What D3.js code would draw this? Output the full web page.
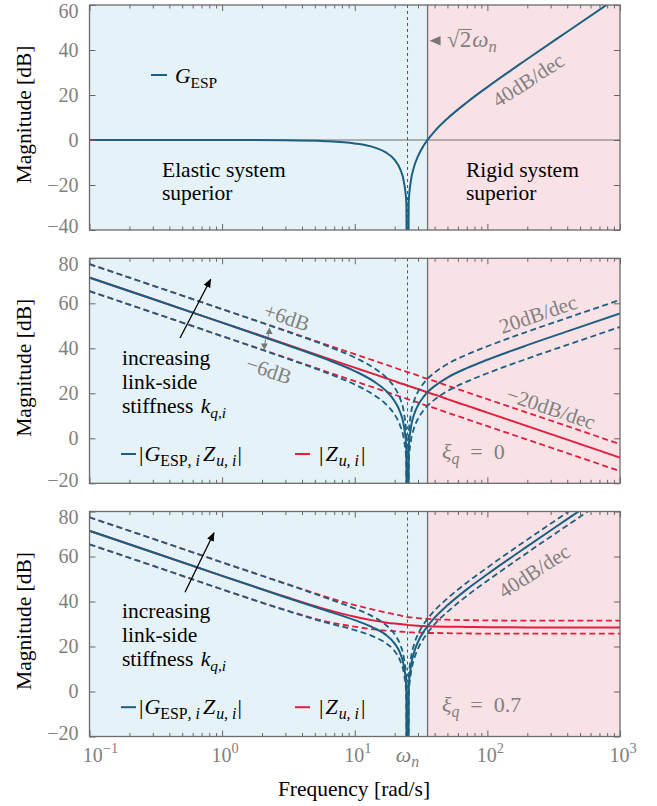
<!DOCTYPE html>
<html>
<head>
<meta charset="utf-8">
<script src="https://cdn.jsdelivr.net/npm/d3@7"></script>
</head>
<body style="margin:0">
<svg width="657" height="806"></svg>
<script>
const freq = [0.1, 0.3, 1, 3, 6, 10, 14, 17, 20, 22, 23.5, 24.5, 25, 25.5, 26.5, 28, 30, 33, 35.4, 40, 50, 70, 100, 200, 400, 1000];

const omegaN = 25;
const omegaSwitch = 35.4;   // sqrt(2) * omegaN

// top panel: G_ESP [dB]
const gEsp = [0, 0, 0, -0.13, -0.52, -1.51, -3.27, -5.39, -8.87, -12.93, -18.68, -28.05, -200, -27.87, -18.16, -11.89, -7.13, -2.59, 0.04, 3.86, 9.54, 16.70, 23.52, 35.99, 48.13, 64.08];

// middle panel, xi_q = 0
const zu0   = [71.4, 61.9, 51.4, 41.9, 35.8, 31.4, 28.5, 26.8, 25.4, 24.5, 24.0, 23.6, 23.4, 23.3, 22.9, 22.5, 21.9, 21.0, 20.4, 19.4, 17.4, 14.5, 11.4, 5.4, -0.6, -8.6];
const zu0Hi = [77.4, 67.9, 57.4, 47.9, 41.8, 37.4, 34.5, 32.8, 31.4, 30.5, 30.0, 29.6, 29.4, 29.3, 28.9, 28.5, 27.9, 27.0, 26.4, 25.4, 23.4, 20.5, 17.4, 11.4, 5.4, -2.6];
const zu0Lo = [65.4, 55.9, 45.4, 35.9, 29.8, 25.4, 22.5, 20.8, 19.4, 18.5, 18.0, 17.6, 17.4, 17.3, 16.9, 16.5, 15.9, 15.0, 14.4, 13.4, 11.4, 8.5, 5.4, -0.6, -6.6, -14.6];
const gz0   = [71.4, 61.9, 51.4, 41.7, 35.3, 29.9, 25.2, 21.4, 16.5, 11.6, 5.3, -4.4, -200, -4.6, 4.8, 10.6, 14.7, 18.4, 20.5, 23.2, 27.0, 31.2, 34.9, 41.4, 47.5, 55.5];
const gz0Hi = [77.4, 67.9, 57.4, 47.7, 41.3, 35.9, 31.2, 27.4, 22.5, 17.6, 11.3, 1.6, -200, 1.4, 10.8, 16.6, 20.7, 24.4, 26.5, 29.2, 33.0, 37.2, 40.9, 47.4, 53.5, 61.5];
const gz0Lo = [65.4, 55.9, 45.4, 35.7, 29.3, 23.9, 19.2, 15.4, 10.5, 5.6, -0.7, -10.4, -200, -10.6, -1.2, 4.6, 8.7, 12.4, 14.5, 17.2, 21.0, 25.2, 28.9, 35.4, 41.5, 49.5];

// bottom panel, xi_q = 0.7
const zu7   = [71.4, 61.9, 51.4, 42.1, 36.6, 33.2, 31.5, 30.7, 30.2, 30.0, 29.8, 29.7, 29.6, 29.5, 29.4, 29.3, 29.2, 29.1, 29.0, 28.9, 28.8, 28.7, 28.6, 28.5, 28.5, 28.5];
const zu7Hi = [77.4, 67.9, 57.4, 48.0, 42.2, 38.4, 36.3, 35.2, 34.3, 33.8, 33.4, 33.2, 33.1, 33.0, 32.9, 32.8, 32.6, 32.4, 32.3, 32.1, 31.9, 31.7, 31.6, 31.5, 31.5, 31.5];
const zu7Lo = [65.4, 55.9, 45.4, 36.2, 31.2, 28.8, 27.6, 27.1, 26.8, 26.6, 26.5, 26.4, 26.4, 26.3, 26.3, 26.2, 26.2, 26.1, 26.0, 26.0, 25.9, 25.8, 25.7, 25.7, 25.7, 25.7];
const gz7   = [71.4, 61.9, 51.4, 41.9, 36.1, 31.7, 28.2, 25.4, 21.3, 17.0, 11.1, 1.7, -200, 1.6, 11.2, 17.4, 22.1, 26.5, 29.0, 32.8, 38.3, 45.4, 52.1, 64.5, 76.6, 92.6];
const gz7Hi = [77.4, 67.9, 57.4, 47.9, 41.7, 36.9, 33.0, 29.8, 25.4, 20.9, 14.7, 5.2, -200, 5.1, 14.7, 20.9, 25.5, 29.8, 32.3, 36.0, 41.4, 48.4, 55.1, 67.5, 79.6, 95.6];
const gz7Lo = [65.4, 55.9, 45.4, 36.1, 30.7, 27.3, 24.3, 21.7, 17.9, 13.7, 7.8, -1.6, -200, -1.6, 8.1, 14.3, 19.1, 23.5, 26.0, 29.9, 35.4, 42.5, 49.2, 61.7, 73.8, 89.8];

const xTicks = [0.1, 1, 10, 100, 1000];
const xTickExp = ['\u22121', '0', '1', '2', '3'];
const yTicksTop = [-40, -20, 0, 20, 40, 60];
const yTicksLow = [-20, 0, 20, 40, 60, 80];

const BLUE = '#1d5f80';
const RED = '#e31e3c';
const GRAY = '#808080';
const DASH = '6,3.5';
const FONT = '"Liberation Serif", "Times New Roman", serif';

const svg = d3.select('svg').style('font-family', FONT);
const left = 89.5, right = 620, panelH = 225;

const x = d3.scaleLog().domain([0.1, 1000]).range([left, right]);
const xMinor = d3.range(-1, 3).flatMap(e => d3.range(2, 10).map(m => m * Math.pow(10, e)));

const panels = [
  { top: 5, domain: [-40, 60], ticks: yTicksTop, zeroLine: true,
    curves: [{ v: gEsp, c: BLUE }] },
  { top: 258.3, domain: [-20, 80], ticks: yTicksLow,
    curves: [{ v: zu0Lo, c: RED, d: true }, { v: zu0Hi, c: RED, d: true }, { v: zu0, c: RED },
             { v: gz0Lo, c: BLUE, d: true }, { v: gz0Hi, c: BLUE, d: true }, { v: gz0, c: BLUE }] },
  { top: 511.5, domain: [-20, 80], ticks: yTicksLow,
    curves: [{ v: zu7Lo, c: RED, d: true }, { v: zu7Hi, c: RED, d: true }, { v: zu7, c: RED },
             { v: gz7Lo, c: BLUE, d: true }, { v: gz7Hi, c: BLUE, d: true }, { v: gz7, c: BLUE }] }
];

svg.append('defs').append('marker')
  .attr('id', 'head')
  .attr('viewBox', '0 0 10 10').attr('refX', 9).attr('refY', 5)
  .attr('markerWidth', 9).attr('markerHeight', 9).attr('markerUnits', 'userSpaceOnUse')
  .attr('orient', 'auto')
  .append('path').attr('d', 'M0,1 L10,5 L0,9 Z').attr('fill', '#000');

function plain(px, py, str, size = 21.5) {
  return svg.append('text').attr('x', px).attr('y', py)
    .attr('font-size', size).style('font-family', FONT).text(str);
}

// text with italic / sub / superscript pieces
function mathText(sel, px, py, parts, size = 21.5, anchor = 'start') {
  const t = sel.append('text').attr('x', px).attr('y', py)
    .attr('font-size', size).attr('text-anchor', anchor).style('font-family', FONT);
  let shift = 0;
  parts.forEach(([s, style = '', dx = 0]) => {
    const sub = style.includes('sub'), sup = style.includes('sup');
    const target = sub ? 5 : sup ? -9 : 0;
    t.append('tspan')
      .attr('dy', target - shift)
      .attr('dx', dx || null)
      .attr('font-size', sub || sup ? size * 0.72 : size)
      .attr('font-style', style.startsWith('i') ? 'italic' : 'normal')
      .text(s);
    shift = target;
  });
  return t;
}

function drawPanel(p, i) {
  const y = d3.scaleLinear().domain(p.domain).range([p.top + panelH, p.top]);
  const g = svg.append('g');

  g.append('clipPath').attr('id', 'clip' + i)
    .append('rect').attr('x', left).attr('y', p.top).attr('width', right - left).attr('height', panelH);

  g.append('rect').attr('x', left).attr('y', p.top)
    .attr('width', x(omegaSwitch) - left).attr('height', panelH).attr('fill', '#e5f3f8');
  g.append('rect').attr('x', x(omegaSwitch)).attr('y', p.top)
    .attr('width', right - x(omegaSwitch)).attr('height', panelH).attr('fill', '#f9e2e6');

  if (p.zeroLine) {
    g.append('line').attr('x1', left).attr('x2', right).attr('y1', y(0)).attr('y2', y(0))
      .attr('stroke', '#6e6e6e').attr('stroke-width', 1.2);
  }
  g.append('line').attr('x1', x(omegaN)).attr('x2', x(omegaN)).attr('y1', p.top).attr('y2', p.top + panelH)
    .attr('stroke', '#555').attr('stroke-width', 1).attr('stroke-dasharray', '3,3');
  g.append('line').attr('x1', x(omegaSwitch)).attr('x2', x(omegaSwitch)).attr('y1', p.top).attr('y2', p.top + panelH)
    .attr('stroke', '#6e6e6e').attr('stroke-width', 1.3);

  const line = d3.line().x(d => x(d[0])).y(d => y(d[1])).curve(d3.curveMonotoneX);
  g.append('g').attr('clip-path', `url(#clip${i})`)
    .selectAll('path').data(p.curves).join('path')
      .attr('d', c => line(freq.map((f, k) => [f, c.v[k]])))
      .attr('fill', 'none')
      .attr('stroke', c => c.c)
      .attr('stroke-width', c => c.d ? 1.8 : 2)
      .attr('stroke-dasharray', c => c.d ? DASH : null);

  // inward ticks on all four sides
  const bottom = p.top + panelH;
  const addAxis = (axis, tx, ty) => {
    const a = g.append('g').attr('transform', `translate(${tx},${ty})`).call(axis);
    a.select('.domain').remove();
    a.selectAll('.tick line').attr('stroke', '#666');
    return a;
  };
  addAxis(d3.axisBottom(x).tickValues(xTicks).tickSize(-6).tickFormat(''), 0, bottom);
  addAxis(d3.axisBottom(x).tickValues(xMinor).tickSize(-3.5).tickFormat(''), 0, bottom);
  addAxis(d3.axisTop(x).tickValues(xTicks).tickSize(-6).tickFormat(''), 0, p.top);
  addAxis(d3.axisTop(x).tickValues(xMinor).tickSize(-3.5).tickFormat(''), 0, p.top);
  addAxis(d3.axisRight(y).tickValues(p.ticks).tickSize(-6).tickFormat(''), right, 0);
  const yAx = addAxis(d3.axisLeft(y).tickValues(p.ticks).tickSize(-6).tickPadding(11), left, 0);
  yAx.attr('font-family', null).attr('font-size', null);
  yAx.selectAll('.tick text')
    .attr('fill', GRAY).attr('font-size', 20).style('font-family', FONT)
    .attr('transform', d => d === p.domain[1] ? 'translate(0,6)' : d === p.domain[0] ? 'translate(0,-3.5)' : null);

  g.append('rect').attr('x', left).attr('y', p.top).attr('width', right - left).attr('height', panelH)
    .attr('fill', 'none').attr('stroke', '#6b6b6b').attr('stroke-width', 1.3);

  svg.append('text')
    .attr('transform', `translate(31,${p.top + panelH / 2 - 3}) rotate(-90)`)
    .attr('text-anchor', 'middle').attr('font-size', 21.5).style('font-family', FONT)
    .text('Magnitude [dB]');
}

panels.forEach(drawPanel);

// x tick labels under the bottom panel
const labelY = panels[2].top + panelH + 25;
xTicks.forEach((v, k) => {
  mathText(svg, x(v) + (k === 0 ? 11 : 3), labelY, [['10'], [xTickExp[k], 'sup']], 20, 'middle')
    .attr('fill', GRAY);
});
mathText(svg, x(omegaN), labelY, [['ω', 'i'], ['n', 'isub']], 22, 'middle').attr('fill', GRAY);
plain(354, 796, 'Frequency [rad/s]').attr('text-anchor', 'middle');

// ---- top panel notes
svg.append('line').attr('x1', 151).attr('x2', 167).attr('y1', 75).attr('y2', 75)
  .attr('stroke', BLUE).attr('stroke-width', 2);
mathText(svg, 175, 83, [['G', 'i'], ['ESP', 'sub']]);
plain(162, 176.5, 'Elastic system');
plain(162, 199.5, 'superior');
plain(466, 176.5, 'Rigid system');
plain(466, 199.5, 'superior');

const xs = x(omegaSwitch);
svg.append('path').attr('d', `M${xs + 2},40.7 L${xs + 13},36 L${xs + 13},45.4 Z`).attr('fill', '#777');
const sq = mathText(svg, 447, 47, [['√'], ['2'], ['ω', 'i', 1], ['n', 'isub']], 23).attr('fill', GRAY);
const two = sq.selectAll('tspan').nodes()[1].getBBox();
svg.append('line').attr('x1', two.x - 0.5).attr('x2', two.x + two.width + 0.5)
  .attr('y1', two.y + 2.5).attr('y2', two.y + 2.5).attr('stroke', GRAY).attr('stroke-width', 1.1);

function slanted(cx, cy, angle, str, size = 21) {
  svg.append('text').attr('fill', GRAY)
    .attr('transform', `translate(${cx},${cy}) rotate(${angle})`)
    .attr('text-anchor', 'middle').attr('dy', '0.35em').attr('font-size', size)
    .style('font-family', FONT)
    .text(str);
}
slanted(528, 80, -33, '40dB/dec');

// ---- middle and bottom panels
function stiffnessNote(dy, a0, a1) {
  plain(122, 365 + dy, 'increasing');
  plain(122, 388.5 + dy, 'link-side');
  mathText(svg, 122, 412.5 + dy, [['stiffness '], ['k', 'i', 2], ['q,i', 'isub']]);
  svg.append('line').attr('x1', a0[0]).attr('y1', a0[1] + dy).attr('x2', a1[0]).attr('y2', a1[1] + dy)
    .attr('stroke', '#000').attr('stroke-width', 1.3).attr('marker-end', 'url(#head)');
}
function legend(ly) {
  svg.append('line').attr('x1', 121).attr('x2', 136).attr('y1', ly).attr('y2', ly)
    .attr('stroke', BLUE).attr('stroke-width', 2);
  mathText(svg, 139, ly + 7, [['|'], ['G', 'i', 1], ['ESP', 'sub'], [', i', 'isub'], ['Z', 'i', 3], ['u, i', 'isub', 1], ['|', '', 1]], 22);
  svg.append('line').attr('x1', 295).attr('x2', 310).attr('y1', ly).attr('y2', ly)
    .attr('stroke', RED).attr('stroke-width', 2);
  mathText(svg, 319, ly + 7, [['|'], ['Z', 'i', 2], ['u, i', 'isub', 1], ['|', '', 2]], 22);
}

const off3 = panels[2].top - panels[1].top;
stiffnessNote(0, [180, 338], [210.7, 279.3]);
stiffnessNote(off3, [185, 339], [214, 279.6]);
legend(454);
legend(454 + off3);

slanted(287, 317, 18.7, '+6dB');
slanted(269, 370, 18.7, '\u22126dB');
svg.append('line').attr('x1', 268).attr('y1', 337).attr('x2', 269).attr('y2', 330).attr('stroke', '#777').attr('stroke-width', 1);
svg.append('path').attr('d', 'M269.3,327.5 L265.8,334 L272.6,334 Z').attr('fill', '#777');
svg.append('line').attr('x1', 265.5).attr('y1', 339.5).attr('x2', 264.6).attr('y2', 347).attr('stroke', '#777').attr('stroke-width', 1);
svg.append('path').attr('d', 'M264.3,350 L261,343.6 L267.8,343.6 Z').attr('fill', '#777');

slanted(538, 314, -19, '20dB/dec');
slanted(551, 408, 18.7, '\u221220dB/dec');
mathText(svg, 442, 459, [['ξ', 'i'], ['q', 'isub'], ['\u2002=\u20020']], 22).attr('fill', GRAY);

slanted(534, 571, -33, '40dB/dec');
mathText(svg, 442, 712, [['ξ', 'i'], ['q', 'isub'], ['\u2002=\u20020.7']], 22).attr('fill', GRAY);
</script>
</body>
</html>
